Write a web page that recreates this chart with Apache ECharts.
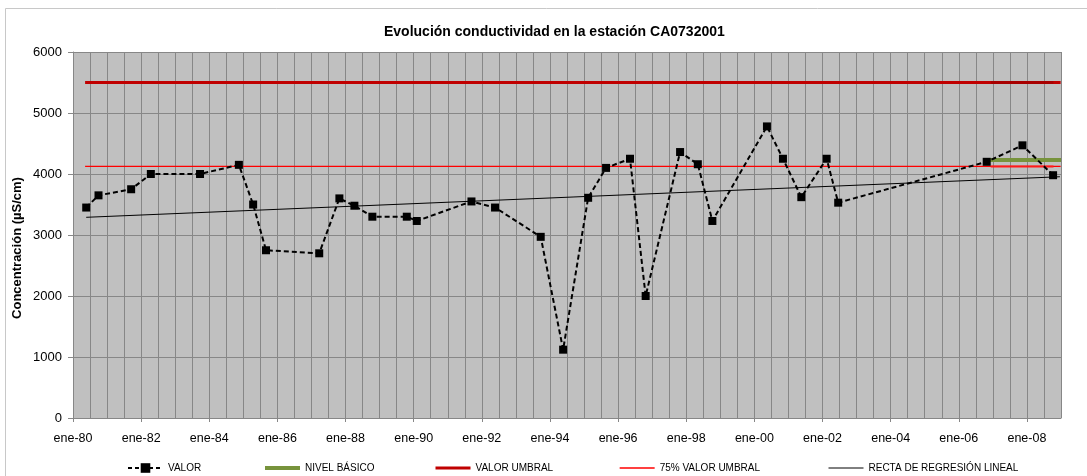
<!DOCTYPE html>
<html>
<head>
<meta charset="utf-8">
<title>Evolución conductividad en la estación CA0732001</title>
<script src="https://cdn.jsdelivr.net/npm/echarts@6/dist/echarts.min.js"></script>
<style>
  html, body { margin: 0; padding: 0; background: #ffffff; }
  #chart { width: 1087px; height: 476px; }
</style>
</head>
<body>
<div id="chart"></div>
<script>
// Sampling dates and measured conductivity (µS/cm)
const sampleDates = [
  '1980-05-22', '1980-10-01', '1981-09-16', '1982-04-15', '1983-09-24', '1984-11-14',
  '1985-04-16', '1985-09-01', '1987-03-25', '1987-10-27', '1988-04-05', '1988-10-15',
  '1989-10-19', '1990-02-03', '1991-09-12', '1992-05-22', '1993-09-24', '1994-05-22',
  '1995-02-14', '1995-08-25', '1996-05-08', '1996-10-23', '1997-10-27', '1998-05-05',
  '1998-10-08', '2000-05-15', '2000-11-03', '2001-05-19', '2002-02-14', '2002-06-18',
  '2006-10-27', '2007-11-14', '2008-10-08'
];
const valor = [
  3450, 3650, 3750, 4000, 4000, 4150,
  3500, 2750, 2700, 3600, 3480, 3300,
  3300, 3230, 3550, 3450, 2970, 1120,
  3610, 4100, 4250, 2000, 4360, 4160,
  3230, 4780, 4250, 3620, 4250, 3530,
  4200, 4470, 3980
];

// Reference levels
const umbralDates = ['1980-05-10', '2008-12-28'];
const umbral = [5500, 5500];
const umbral75 = [4125, 4125];
const recentDates = ['2006-12-10', '2008-10-12'];
const basicoDates = ['2006-12-01', '2009-01-01'];
const nivelBasico = [4230, 4230];

// Linear regression line end points
const regresionDates = ['1980-05-22', '2008-12-20'];
const regresion = [3290, 3955];

// Axis ticks
const tickYears = [1980, 1982, 1984, 1986, 1988, 1990, 1992, 1994, 1996, 1998, 2000, 2002, 2004, 2006, 2008];
const yTicks = [0, 1000, 2000, 3000, 4000, 5000, 6000];

// Date string -> fractional year for the numeric time axis
function toYear(s) {
  const d = new Date(s + 'T00:00:00Z');
  const y = d.getUTCFullYear();
  const start = Date.UTC(y, 0, 1);
  const end = Date.UTC(y + 1, 0, 1);
  return y + (d.getTime() - start) / (end - start);
}
function pairs(dates, vals) {
  return dates.map((d, i) => [toYear(d), vals[i]]);
}

const FONT = 'Liberation Sans, Arial, sans-serif';
const GRID_COLOR = '#878787';

const chart = echarts.init(document.getElementById('chart'), null, { renderer: 'canvas' });

function legendAt(left, name, lineStyle, showSymbol) {
  return {
    top: 463,
    left: left,
    padding: 0,
    itemWidth: 35,
    itemHeight: 12,
    textStyle: { fontFamily: FONT, fontSize: 10, color: '#000' },
    selectedMode: false,
    data: [name],
    lineStyle: lineStyle,
    itemStyle: showSymbol ? { color: '#000' } : { opacity: 0 }
  };
}

chart.setOption({
  animation: false,
  backgroundColor: '#ffffff',
  title: {
    text: 'Evolución conductividad en la estación CA0732001',
    left: 379,
    top: 20,
    textStyle: { fontFamily: FONT, fontSize: 14, fontWeight: 'bold', color: '#000' }
  },
  graphic: [
    {
      type: 'rect',
      shape: { x: 5.5, y: 8.5, width: 1100, height: 500 },
      style: { fill: 'none', stroke: '#c8c8c8', lineWidth: 1 },
      silent: true
    },
    {
      type: 'text',
      x: 17,
      y: 248,
      rotation: Math.PI / 2,
      style: {
        text: 'Concentración (µS/cm)',
        fontFamily: FONT,
        fontSize: 13,
        fontWeight: 'bold',
        fill: '#000',
        align: 'center',
        verticalAlign: 'middle'
      },
      silent: true
    }
  ],
  legend: [
    legendAt(127, 'VALOR', { color: '#000', width: 2, type: [4, 3] }, true),
    legendAt(263, 'NIVEL BÁSICO', { color: '#77933c', width: 4 }, false),
    legendAt(434, 'VALOR UMBRAL', { color: '#c00000', width: 3 }, false),
    legendAt(619, '75% VALOR UMBRAL', { color: '#ff0000', width: 1.3 }, false),
    legendAt(828, 'RECTA DE REGRESIÓN LINEAL', { color: '#000', width: 1 }, false)
  ],
  grid: {
    left: 73, right: 26, top: 52, bottom: 58,
    show: true,
    backgroundColor: '#c0c0c0',
    borderWidth: 0
  },
  xAxis: [
    {
      // labelled date axis: ticks and labels every two years
      type: 'value',
      min: 1980,
      max: 2009,
      interval: 2,
      position: 'bottom',
      axisLine: { show: true, lineStyle: { color: GRID_COLOR, width: 1 } },
      axisTick: {
        show: true,
        customValues: tickYears,
        length: 4,
        lineStyle: { color: GRID_COLOR }
      },
      axisLabel: {
        customValues: tickYears,
        margin: 14,
        fontFamily: FONT,
        fontSize: 12.5,
        color: '#000',
        formatter: v => 'ene-' + String(Math.round(v)).slice(2)
      },
      splitLine: { show: false }
    },
    {
      // half-year vertical gridlines
      type: 'value',
      min: 1980,
      max: 2009,
      interval: 0.5,
      position: 'top',
      axisLine: { show: false },
      axisTick: { show: false },
      axisLabel: { show: false },
      splitLine: { show: true, lineStyle: { color: GRID_COLOR, width: 1 } }
    }
  ],
  yAxis: {
    type: 'value',
    min: 0,
    max: 6000,
    interval: 1000,
    axisLine: { show: true, lineStyle: { color: GRID_COLOR, width: 1 } },
    axisTick: { show: true, length: 5, lineStyle: { color: GRID_COLOR } },
    axisLabel: {
      margin: 11,
      fontFamily: FONT,
      fontSize: 13,
      color: '#000',
      formatter: v => (yTicks.indexOf(v) >= 0 ? String(v) : '')
    },
    splitLine: { show: true, lineStyle: { color: GRID_COLOR, width: 1 } }
  },
  series: [
    {
      name: '75% VALOR UMBRAL',
      type: 'line',
      data: pairs(umbralDates, umbral75),
      symbol: 'none',
      lineStyle: { color: '#ff0000', width: 1.3 },
      itemStyle: { color: '#ff0000' },
      z: 2
    },
    {
      name: '75% VALOR UMBRAL',
      type: 'line',
      data: pairs(recentDates, umbral75),
      symbol: 'none',
      lineStyle: { color: '#ff1a1a', width: 2 },
      itemStyle: { color: '#ff0000' },
      z: 2
    },
    {
      name: 'VALOR UMBRAL',
      type: 'line',
      data: pairs(umbralDates, umbral),
      symbol: 'none',
      lineStyle: { color: '#c00000', width: 3 },
      itemStyle: { color: '#c00000' },
      z: 2
    },
    {
      name: 'VALOR UMBRAL',
      type: 'line',
      data: pairs(recentDates, umbral),
      symbol: 'none',
      lineStyle: { color: '#a80000', width: 3 },
      itemStyle: { color: '#c00000' },
      z: 2
    },
    {
      name: 'RECTA DE REGRESIÓN LINEAL',
      type: 'line',
      data: pairs(regresionDates, regresion),
      symbol: 'none',
      lineStyle: { color: '#000', width: 1 },
      itemStyle: { color: '#000' },
      z: 3
    },
    {
      name: 'NIVEL BÁSICO',
      type: 'line',
      data: pairs(basicoDates, nivelBasico),
      symbol: 'none',
      lineStyle: { color: '#77933c', width: 4 },
      itemStyle: { color: '#77933c' },
      z: 3
    },
    {
      name: 'VALOR',
      type: 'line',
      data: pairs(sampleDates, valor),
      symbol: 'rect',
      symbolSize: 8,
      showAllSymbol: true,
      lineStyle: { color: '#000', width: 2, type: [5, 3] },
      itemStyle: { color: '#000' },
      z: 5
    }
  ]
});
</script>
</body>
</html>
